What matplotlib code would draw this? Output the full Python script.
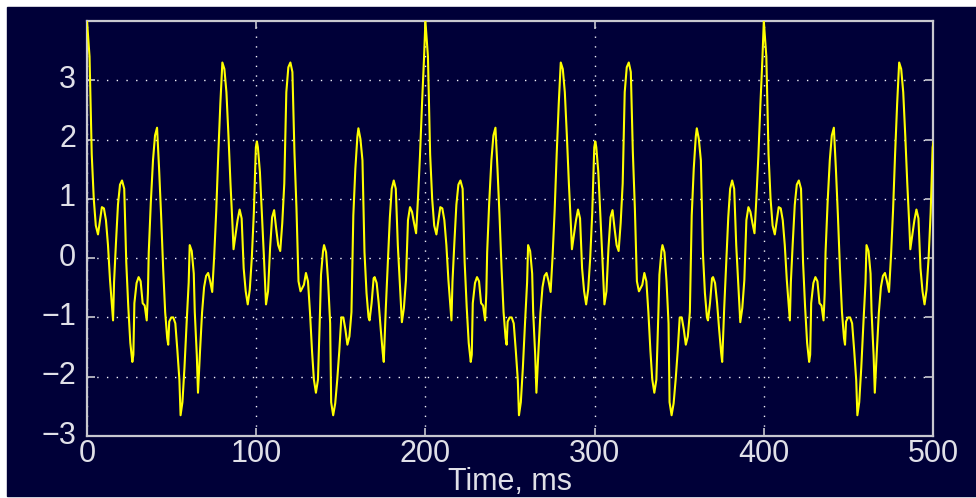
import numpy as np
import matplotlib
matplotlib.use("Agg")
import matplotlib.pyplot as plt
import matplotlib.transforms as mtransforms
from matplotlib.patches import Rectangle

# The trace repeats every 200 ms; times within a cycle (ms)
phase_ms = [0, 1.5, 2.8, 4.0, 5.2, 6.5, 8.8, 10.0, 11.2, 12.4, 13.6, 14.8, 15.4, 16.0,
            17.1, 18.3, 19.5, 20.7, 22.0, 23.2, 24.4, 25.6, 26.8, 27.4, 28.0, 29.3,
            30.5, 31.7, 32.9, 34.1, 35.3, 36.0, 36.5, 37.7, 39.0, 40.2, 41.4, 42.6,
            43.8, 45.0, 46.2, 47.4, 48.0, 48.6, 49.8, 51.0, 52.2, 53.4, 54.6, 55.3,
            56.4, 57.6, 58.9, 60.1, 60.7, 61.9, 63.1, 63.7, 64.9, 65.6, 66.8, 68.0,
            69.2, 70.4, 71.6, 72.8, 74.0, 75.2, 76.4, 77.6, 78.8, 80.0, 81.2, 82.4,
            83.6, 84.8, 86.0, 86.6, 87.8, 89.0, 90.2, 91.4, 92.6, 93.8, 95.0, 96.2,
            97.4, 98.6, 99.8, 100.4, 101.0, 102.2, 103.4, 104.6, 105.8, 107.0, 108.2,
            109.4, 110.6, 111.8, 113.0, 114.2, 115.4, 116.6, 117.8, 119.0, 120.2,
            121.4, 122.6, 123.8, 125.0, 126.2, 128.2, 129.4, 130.6, 131.8, 133.0,
            134.1, 135.3, 136.5, 137.7, 138.3, 139.5, 140.1, 141.3, 142.5, 143.7,
            144.3, 145.5, 146.7, 147.9, 149.1, 150.3, 151.5, 152.7, 153.9, 155.1,
            156.3, 157.4, 158.6, 159.8, 160.4, 161.6, 162.8, 164.0, 165.2, 166.4,
            167.0, 168.2, 169.4, 170.0, 171.2, 172.4, 173.6, 174.8, 175.4, 176.6,
            177.8, 179.0, 180.1, 181.3, 182.5, 183.7, 184.9, 186.1, 187.3, 188.5,
            189.7, 190.9, 192.1, 193.3, 194.5, 195.6, 196.8, 198.0, 199.2]

cycle_start_ms = [0, 200, 400]

trace_0_200 = [4.0, 3.4, 1.75, 1.0, 0.55, 0.4, 0.86, 0.84, 0.64, 0.22, -0.37, -0.84, -1.05, -0.4,
               0.25, 0.9, 1.24, 1.31, 1.17, -0.07, -0.82, -1.43, -1.75, -1.63, -0.76, -0.42,
               -0.32, -0.39, -0.76, -0.8, -1.05, -0.59, 0.1, 0.93, 1.65, 2.07, 2.2, 1.51,
               0.72, -0.17, -0.91, -1.35, -1.46, -1.07, -1.0, -1.0, -1.1, -1.55, -2.05, -2.65,
               -2.43, -1.85, -1.08, -0.41, 0.22, 0.12, -0.26, -0.91, -1.64, -2.27, -1.57, -0.92,
               -0.49, -0.3, -0.25, -0.39, -0.57, 0.05, 0.81, 1.76, 2.6, 3.3, 3.19, 2.8,
               2.07, 1.26, 0.55, 0.15, 0.39, 0.64, 0.82, 0.67, -0.17, -0.56, -0.78, -0.53,
               0.0, 0.76, 1.87, 1.97, 1.87, 1.45, 0.72, 0.0, -0.78, -0.56, 0.17,
               0.69, 0.81, 0.5, 0.22, 0.12, 0.59, 1.26, 2.8, 3.22, 3.3,
               3.14, 1.79, 0.84, -0.39, -0.56, -0.45, -0.25, -0.39, -0.92, -1.57,
               -2.05, -2.27, -2.05, -0.92, -0.28, 0.12, 0.22, 0.1, -0.39, -1.1,
               -2.43, -2.65, -2.45, -2.05, -1.57, -1.0, -1.0, -1.2, -1.46, -1.32,
               -0.91, 0.72, 1.51, 2.05, 2.19, 2.01, 1.65, 0.1, -0.59, -1.0,
               -1.05, -0.76, -0.34, -0.32, -0.42, -0.76, -1.2, -1.6, -1.75, -0.84,
               -0.07, 0.69, 1.17, 1.31, 1.17, 0.22, -0.42, -1.08, -0.84, -0.37,
               0.64, 0.86, 0.78, 0.59, 0.42, 1.0, 1.73, 2.6, 3.38]

trace_200_400 = [4.0, 3.4, 1.75, 1.0, 0.55, 0.4, 0.86, 0.84, 0.64, 0.22, -0.37, -0.84, -1.05, -0.4,
                 0.25, 0.9, 1.24, 1.31, 1.17, -0.07, -0.82, -1.43, -1.75, -1.63, -0.76, -0.42,
                 -0.32, -0.39, -0.76, -0.8, -1.05, -0.59, 0.1, 0.93, 1.65, 2.07, 2.2, 1.51,
                 0.72, -0.17, -0.91, -1.35, -1.46, -1.07, -1.0, -1.0, -1.1, -1.55, -2.05, -2.65,
                 -2.43, -1.85, -1.08, -0.41, 0.22, 0.12, -0.26, -0.91, -1.64, -2.27, -1.57, -0.92,
                 -0.49, -0.3, -0.25, -0.39, -0.57, 0.05, 0.81, 1.76, 2.6, 3.3, 3.19, 2.8,
                 2.07, 1.26, 0.55, 0.15, 0.39, 0.64, 0.82, 0.67, -0.17, -0.56, -0.78, -0.53,
                 0.0, 0.76, 1.87, 1.97, 1.87, 1.45, 0.72, 0.0, -0.78, -0.56, 0.17,
                 0.69, 0.81, 0.5, 0.22, 0.12, 0.59, 1.26, 2.8, 3.22, 3.3,
                 3.14, 1.79, 0.84, -0.39, -0.56, -0.45, -0.25, -0.39, -0.92, -1.57,
                 -2.05, -2.27, -2.05, -0.92, -0.28, 0.12, 0.22, 0.1, -0.39, -1.1,
                 -2.43, -2.65, -2.45, -2.05, -1.57, -1.0, -1.0, -1.2, -1.46, -1.32,
                 -0.91, 0.72, 1.51, 2.05, 2.19, 2.01, 1.65, 0.1, -0.59, -1.0,
                 -1.05, -0.76, -0.34, -0.32, -0.42, -0.76, -1.2, -1.6, -1.75, -0.84,
                 -0.07, 0.69, 1.17, 1.31, 1.17, 0.22, -0.42, -1.08, -0.84, -0.37,
                 0.64, 0.86, 0.78, 0.59, 0.42, 1.0, 1.73, 2.6, 3.38]

# last half cycle, up to the right edge at 500 ms
trace_400_500 = [4.0, 3.4, 1.75, 1.0, 0.55, 0.4, 0.86, 0.84, 0.64, 0.22, -0.37, -0.84, -1.05, -0.4,
                 0.25, 0.9, 1.24, 1.31, 1.17, -0.07, -0.82, -1.43, -1.75, -1.63, -0.76, -0.42,
                 -0.32, -0.39, -0.76, -0.8, -1.05, -0.59, 0.1, 0.93, 1.65, 2.07, 2.2, 1.51,
                 0.72, -0.17, -0.91, -1.35, -1.46, -1.07, -1.0, -1.0, -1.1, -1.55, -2.05, -2.65,
                 -2.43, -1.85, -1.08, -0.41, 0.22, 0.12, -0.26, -0.91, -1.64, -2.27, -1.57, -0.92,
                 -0.49, -0.3, -0.25, -0.39, -0.57, 0.05, 0.81, 1.76, 2.6, 3.3, 3.19, 2.8,
                 2.07, 1.26, 0.55, 0.15, 0.39, 0.64, 0.82, 0.67, -0.17, -0.56, -0.78, -0.53,
                 0.0, 0.76, 1.87, 1.97]

x_ticks = [0, 100, 200, 300, 400, 500]
y_ticks = [-3, -2, -1, 0, 1, 2, 3]

navy = "#000038"
fg = "#e0e0e8"

plt.rcParams['font.family'] = ['Liberation Sans Narrow', 'Liberation Sans', 'DejaVu Sans']

fig = plt.figure(figsize=(9.76, 4.98), dpi=100, facecolor="white")
# dark panel, leaving a thin white strip on top/left like the screenshot
fig.add_artist(Rectangle((7 / 976, 2 / 498), 969 / 976, 489 / 498,
                         transform=fig.transFigure, color=navy, zorder=-10))

ax = fig.add_axes([87 / 976, 62 / 498, 846 / 976, 415 / 498])
ax.set_facecolor(navy)

traces = [trace_0_200, trace_200_400, trace_400_500]
t = np.concatenate([np.array(phase_ms[:len(v)]) + s for s, v in zip(cycle_start_ms, traces)])
y = np.concatenate(traces)
ax.plot(t, y, color="#ffff00", lw=1.5, zorder=3)

ax.set_xlim(0, 500)
ax.set_ylim(-3, 4)
ax.set_xticks(x_ticks)
ax.set_yticks(y_ticks)
ax.set_yticklabels([str(v).replace("-", "\u2212") for v in y_ticks])

ax.grid(True, color="#f0f0f8", lw=1.0, linestyle=(0, (1, 6)))
for s in ax.spines.values():
    s.set_color("#c8c8d0")
    s.set_linewidth(1.6)

ax.tick_params(direction="in", length=6, width=1.2, color="#c8c8d0",
               top=True, right=True, labelsize=22, labelcolor=fg)
ax.tick_params(axis="x", pad=2)
ax.tick_params(axis="y", pad=8)

ax.set_xlabel("Time, ms", fontsize=22, color=fg)
ax.xaxis.set_label_coords(0.5, -0.075)

# MATLAB puts the y labels a little above the tick
dy = mtransforms.ScaledTranslation(0, 4 / 100, fig.dpi_scale_trans)
for lab in ax.get_yticklabels():
    lab.set_transform(lab.get_transform() + dy)

fig.savefig("out.png", dpi=100, facecolor=fig.get_facecolor())
